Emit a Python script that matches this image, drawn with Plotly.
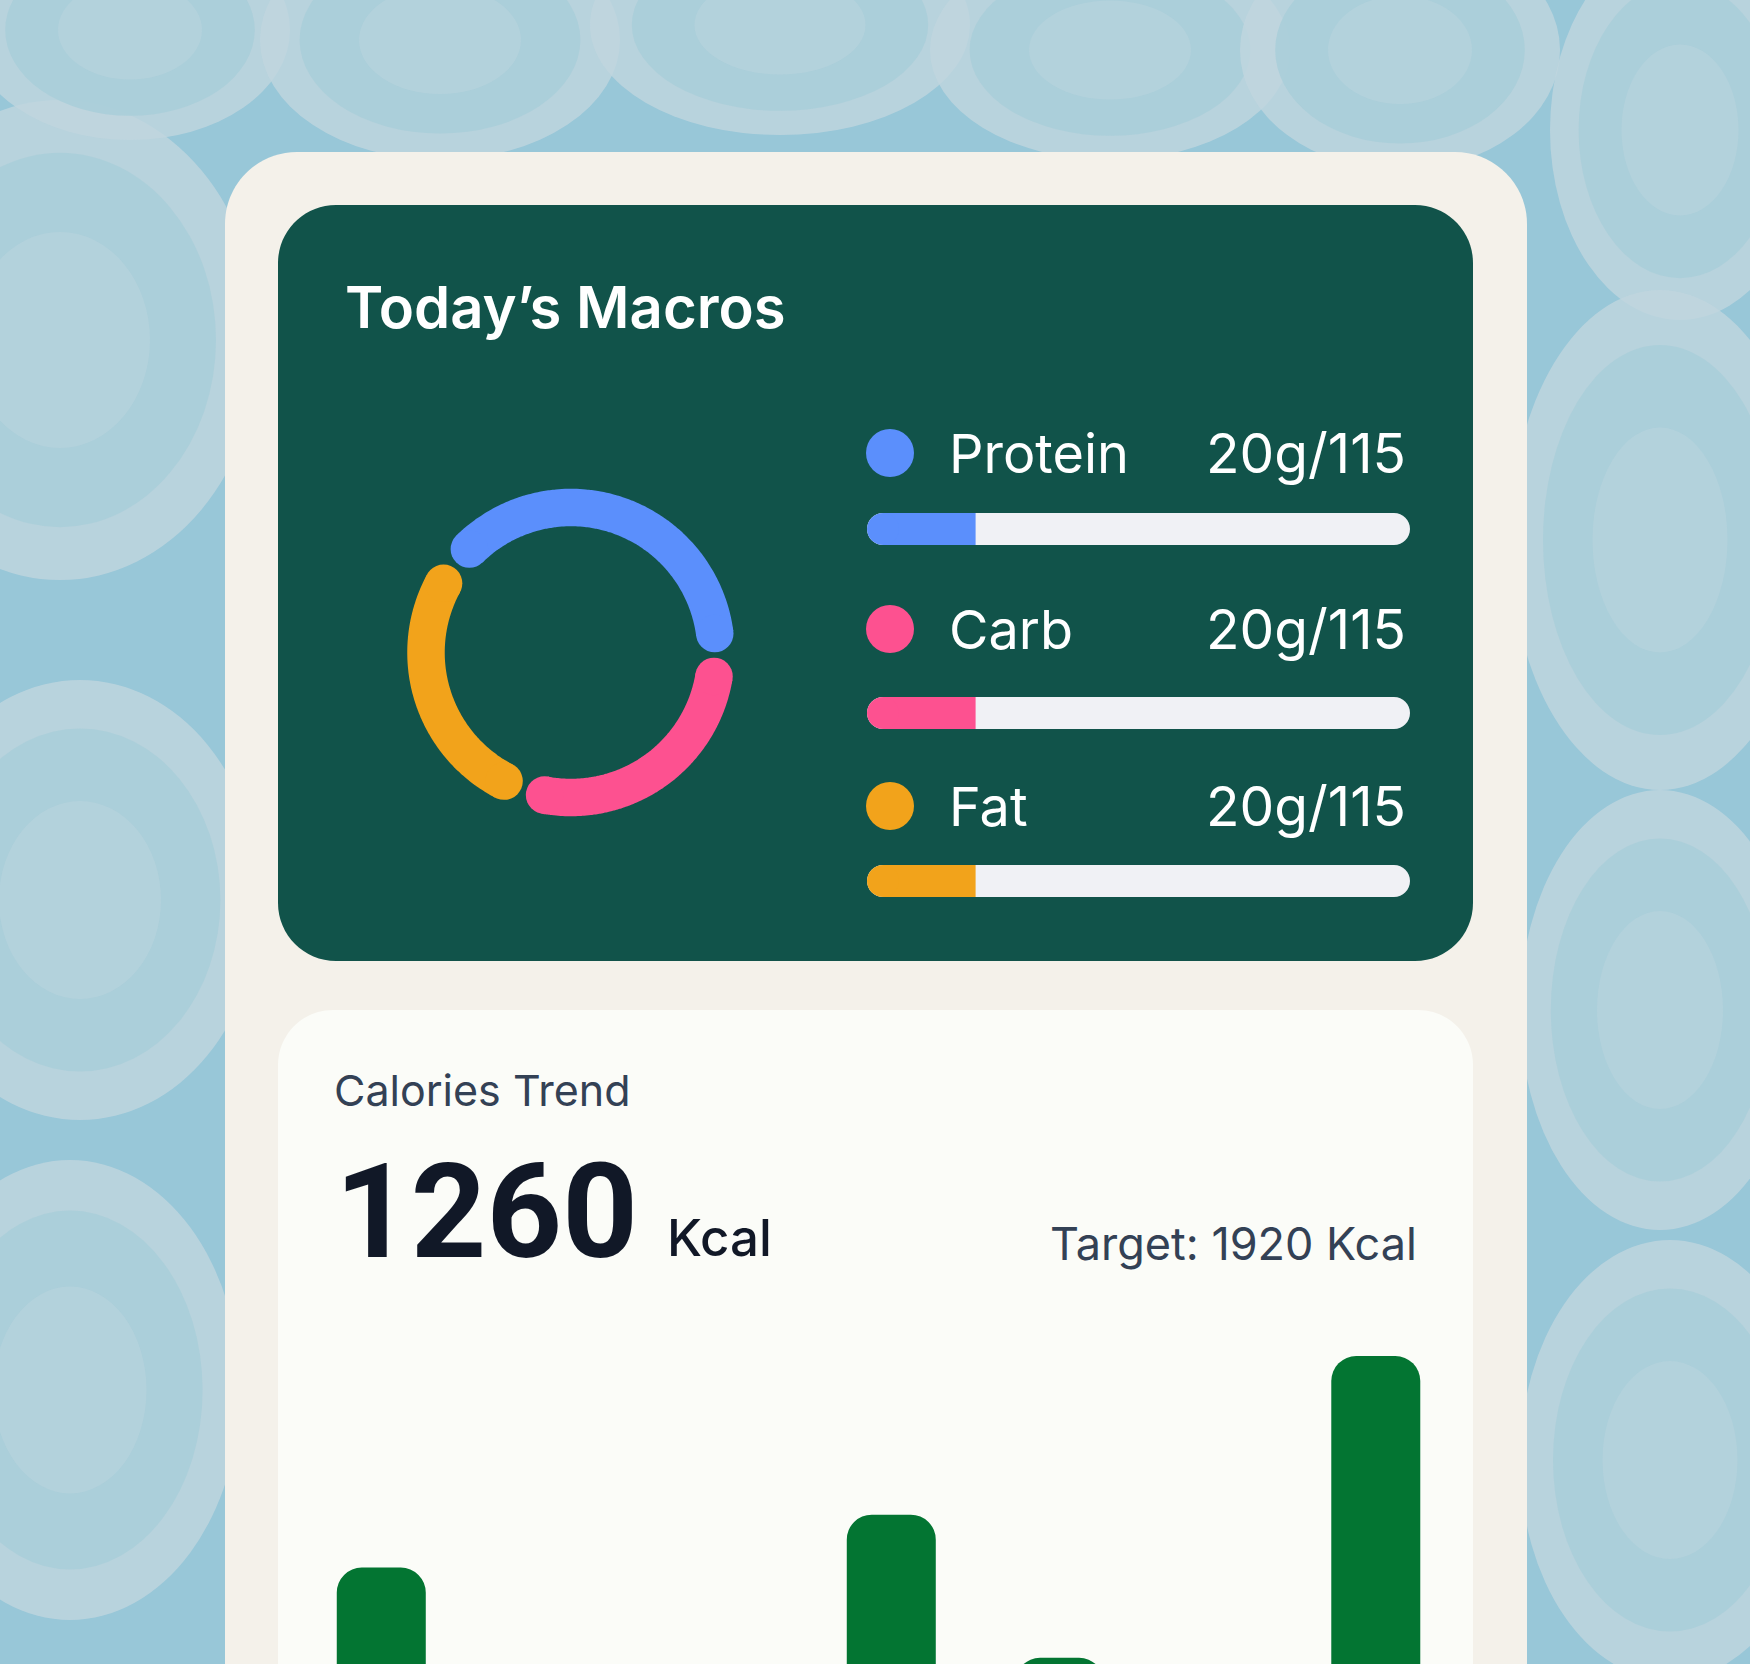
import math
import plotly.graph_objects as go

# ---------------- data ----------------
macro_names = ["Protein", "Carb", "Fat"]
macro_eaten_g = [20, 20, 20]
macro_goal_g = [115, 115, 115]
macro_bar_pct = [20, 20, 20]          # fill of each progress bar (%)
macro_split_pct = [40, 30, 30]        # donut shares (%)
macro_colors = ["#5B8FFC", "#FD5190", "#F2A31B"]

chart_title = "Today’s Macros"
trend_title = "Calories Trend"
calories_today = 1260
calories_target = 1920
meal_times = ["07:00", "13:40", "15:52", "20:00"]
meal_kcal = [245, 330, 100, 585]

# ---------------- layout constants (pixels) ----------------
W, H = 1750, 1664
BG = "#98c7d8"
CREAM = "#F4F1EA"
DARK = "#11534A"
WHITE_CARD = "#FBFCF8"
TRACK = "#F0F1F5"
BAR_GREEN = "#037532"
SLATE = "#334155"
INK = "#111827"


def rrect(x0, y0, x1, y1, r):
    k = 0.5523 * r
    return (f"M {x0+r},{y0} L {x1-r},{y0} "
            f"C {x1-r+k},{y0} {x1},{y0+r-k} {x1},{y0+r} "
            f"L {x1},{y1-r} C {x1},{y1-r+k} {x1-r+k},{y1} {x1-r},{y1} "
            f"L {x0+r},{y1} C {x0+r-k},{y1} {x0},{y1-r+k} {x0},{y1-r} "
            f"L {x0},{y0+r} C {x0},{y0+r-k} {x0+r-k},{y0} {x0+r},{y0} Z")


shapes = []

# marbled background cells (decorative)
bg_cells = [(60, 340, 200, 240), (80, 900, 180, 220), (70, 1390, 170, 230),
            (130, 30, 160, 110), (440, 40, 180, 120), (780, 25, 190, 110),
            (1110, 50, 180, 110), (1400, 50, 160, 120), (1680, 130, 130, 190),
            (1660, 540, 150, 250), (1660, 1010, 140, 220), (1670, 1460, 150, 220)]
for cx, cy, rx, ry in bg_cells:
    shapes.append(dict(type="circle", xref="x", yref="y", layer="below",
                       x0=cx - rx, x1=cx + rx, y0=cy - ry, y1=cy + ry,
                       fillcolor="rgba(192,214,222,0.8)", line=dict(width=0)))
    shapes.append(dict(type="circle", xref="x", yref="y", layer="below",
                       x0=cx - rx * 0.78, x1=cx + rx * 0.78,
                       y0=cy - ry * 0.78, y1=cy + ry * 0.78,
                       fillcolor="rgba(170,206,217,0.9)", line=dict(width=0)))
    shapes.append(dict(type="circle", xref="x", yref="y", layer="below",
                       x0=cx - rx * 0.45, x1=cx + rx * 0.45,
                       y0=cy - ry * 0.45, y1=cy + ry * 0.45,
                       fillcolor="rgba(182,211,221,0.7)", line=dict(width=0)))

# cards
shapes.append(dict(type="path", xref="x", yref="y", layer="below",
                   path=rrect(225, 152, 1527, 1900, 72), fillcolor=CREAM, line=dict(width=0)))
shapes.append(dict(type="path", xref="x", yref="y", layer="below",
                   path=rrect(278, 205, 1473, 961, 58), fillcolor=DARK, line=dict(width=0)))
shapes.append(dict(type="path", xref="x", yref="y", layer="below",
                   path=rrect(278, 1010, 1473, 1900, 55), fillcolor=WHITE_CARD, line=dict(width=0)))

# progress tracks
TRACK_X0, TRACK_X1, TRACK_H = 867, 1410, 32
row_track_y = [529, 713, 881]
row_label_y = [453, 629, 806]
for ty in row_track_y:
    shapes.append(dict(type="path", xref="x", yref="y", layer="below",
                       path=rrect(TRACK_X0, ty - TRACK_H / 2, TRACK_X1, ty + TRACK_H / 2, TRACK_H / 2),
                       fillcolor=TRACK, line=dict(width=0)))

fig = go.Figure()

# donut with gaps and round caps
CX, CY, R_MID, RING_W = 571, 652.5, 145, 37.5
START_DEG, GAP_DEG = 143.0, 17.0
acc = 0.0
for share, col in zip(macro_split_pct, macro_colors):
    a0 = START_DEG - acc * 3.6 - GAP_DEG / 2
    a1 = START_DEG - (acc + share) * 3.6 + GAP_DEG / 2
    acc += share
    n = 120
    angs = [math.radians(a0 + (a1 - a0) * i / n) for i in range(n + 1)]
    xs = [CX + R_MID * math.cos(a) for a in angs]
    ys = [CY - R_MID * math.sin(a) for a in angs]
    fig.add_trace(go.Scatter(x=xs, y=ys, mode="lines",
                             line=dict(color=col, width=RING_W, simplify=False, shape="spline"),
                             hoverinfo="skip", xaxis="x", yaxis="y"))
    fig.add_trace(go.Scatter(x=[xs[0], xs[-1]], y=[ys[0], ys[-1]], mode="markers",
                             marker=dict(color=col, size=RING_W, line=dict(width=0)),
                             hoverinfo="skip", xaxis="x", yaxis="y"))

# progress fills + legend dots
DOT_X, DOT_D = 890, 48
track_len = TRACK_X1 - TRACK_X0
for pct, col, ty, ly in zip(macro_bar_pct, macro_colors, row_track_y, row_label_y):
    x_end = TRACK_X0 + track_len * pct / 100.0
    fig.add_trace(go.Scatter(x=[TRACK_X0 + TRACK_H / 2, x_end], y=[ty, ty], mode="lines",
                             line=dict(color=col, width=TRACK_H), hoverinfo="skip"))
    fig.add_trace(go.Scatter(x=[TRACK_X0 + TRACK_H / 2], y=[ty], mode="markers",
                             marker=dict(color=col, size=TRACK_H, line=dict(width=0)), hoverinfo="skip"))
    fig.add_trace(go.Scatter(x=[DOT_X], y=[ly], mode="markers",
                             marker=dict(color=col, size=DOT_D, line=dict(width=0)), hoverinfo="skip"))

# calories bars (by meal time)
meal_hours = [int(t[:2]) + int(t[3:]) / 60 for t in meal_times]
PX_PER_HOUR = 76.5
HOUR_AT_LEFT = 5.65
BAR_PX = 89
fig.add_trace(go.Bar(x=meal_hours, y=meal_kcal, width=BAR_PX / PX_PER_HOUR,
                     marker=dict(color=BAR_GREEN, line=dict(width=0)),
                     xaxis="x2", yaxis="y2", hoverinfo="skip"))

# ---------------- text ----------------
ann = []
FONT = "Inter"
ann.append(dict(x=343, y=306.5, text=chart_title, xanchor="left", yanchor="middle",
                font=dict(family=FONT, size=58, color="#FFFFFF", weight=600)))
for name, eaten, goal, ly in zip(macro_names, macro_eaten_g, macro_goal_g, row_label_y):
    ann.append(dict(x=947, y=ly, text=name, xanchor="left", yanchor="middle",
                    font=dict(family=FONT, size=54, color="#FFFFFF")))
    ann.append(dict(x=1408, y=ly, text=f"{eaten}g/{goal}", xanchor="right", yanchor="middle",
                    font=dict(family=FONT, size=55, color="#FFFFFF")))
ann.append(dict(x=332, y=1090, text=trend_title, xanchor="left", yanchor="middle",
                font=dict(family=FONT, size=43, color=SLATE)))
ann.append(dict(x=333, y=1212, text=f"{calories_today}", xanchor="left", yanchor="middle",
                font=dict(family="Roboto", size=132, color=INK, weight=700)))
ann.append(dict(x=665, y=1237, text="Kcal", xanchor="left", yanchor="middle",
                font=dict(family=FONT, size=51, color=INK, weight=500)))
ann.append(dict(x=1419, y=1243.5, text=f"Target: {calories_target} Kcal", xanchor="right", yanchor="middle",
                font=dict(family=FONT, size=45, color=SLATE)))
for a in ann:
    a.update(xref="x", yref="y", showarrow=False)

x2_left, x2_right = 278, 1473
y2_top = 1300
fig.update_layout(
    width=W, height=H, margin=dict(l=0, r=0, t=0, b=0),
    paper_bgcolor=BG, plot_bgcolor="rgba(0,0,0,0)",
    showlegend=False, hovermode=False,
    xaxis=dict(range=[0, W], domain=[0, 1], visible=False, fixedrange=True),
    yaxis=dict(range=[H, 0], domain=[0, 1], visible=False, fixedrange=True),
    xaxis2=dict(domain=[x2_left / W, x2_right / W], anchor="y2", visible=False,
                range=[HOUR_AT_LEFT, HOUR_AT_LEFT + (x2_right - x2_left) / PX_PER_HOUR], fixedrange=True),
    yaxis2=dict(domain=[0, (H - y2_top) / H], anchor="x2", visible=False,
                range=[90, 675], fixedrange=True),
    barcornerradius=25,
    shapes=shapes, annotations=ann,
)

fig.write_html("out.html", config={"displayModeBar": False, "staticPlot": True},
               post_script="document.body.style.margin='0';document.body.style.overflow='hidden';")
